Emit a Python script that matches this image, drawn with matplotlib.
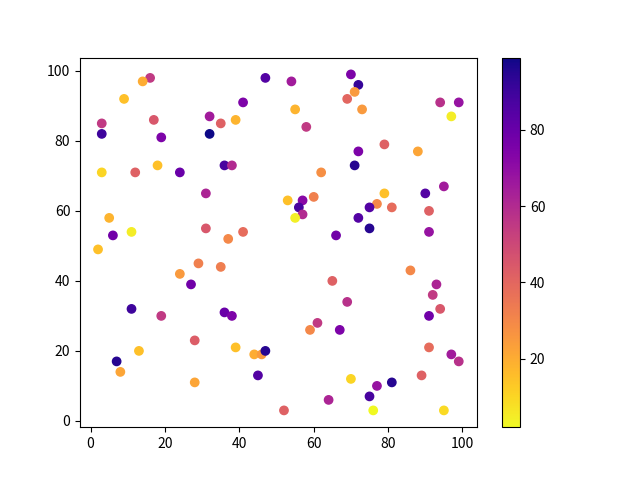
import matplotlib
matplotlib.use('Agg')
from matplotlib import pyplot as plt
import numpy as np

plt.rcParams['font.family'] = ['Noto Sans CJK SC', 'DejaVu Sans']

# points: x, y and the colour value
xs = [16, 14, 9, 47, 41, 3, 17, 32, 35, 39,
      3, 19, 32, 3, 12, 18, 24, 36, 38, 31,
      5, 6, 11, 31, 37, 41, 2,
      54, 70, 72, 71, 69, 73, 55, 94, 99, 97,
      58, 79, 88, 72, 71, 62, 79, 90, 95, 53,
      57, 60, 56, 57, 55, 77, 81, 75, 72, 75,
      66, 91, 91,
      29, 24, 35, 27, 11, 19, 36, 38, 28, 13,
      39, 7, 8, 28, 44, 46, 47, 45,
      86, 65, 93, 92, 94, 69, 61, 59, 67, 91,
      91, 97, 99, 70, 89, 77, 81, 75, 64, 52,
      76, 95]
ys = [98, 97, 92, 98, 91, 85, 86, 87, 85, 86,
      82, 81, 82, 71, 71, 73, 71, 73, 73, 65,
      58, 53, 54, 55, 52, 54, 49,
      97, 99, 96, 94, 92, 89, 89, 91, 91, 87,
      84, 79, 77, 77, 73, 71, 65, 65, 67, 63,
      63, 64, 61, 59, 58, 62, 61, 61, 58, 55,
      53, 60, 54,
      45, 42, 44, 39, 32, 30, 31, 30, 23, 20,
      21, 17, 14, 11, 19, 19, 20, 13,
      43, 40, 39, 36, 32, 34, 28, 26, 26, 30,
      21, 19, 17, 12, 13, 10, 11, 7, 6, 3,
      3, 3]
vals = [55, 20, 15, 85, 75, 55, 45, 65, 42, 18,
        90, 75, 99, 10, 42, 15, 80, 88, 60, 62,
        18, 78, 5, 45, 30, 38, 15,
        65, 75, 92, 25, 40, 25, 18, 58, 68, 5,
        55, 42, 22, 75, 95, 28, 15, 85, 65, 15,
        72, 32, 88, 60, 4, 30, 38, 85, 85, 95,
        78, 42, 68,
        32, 25, 33, 78, 90, 55, 80, 75, 43, 15,
        15, 95, 22, 22, 20, 25, 95, 85,
        30, 42, 62, 55, 45, 58, 55, 30, 75, 78,
        38, 65, 58, 10, 42, 68, 95, 88, 62, 42,
        2, 9]

plt.scatter(xs, ys, c=vals, cmap='plasma_r')
plt.colorbar()

plt.savefig('out.png')
